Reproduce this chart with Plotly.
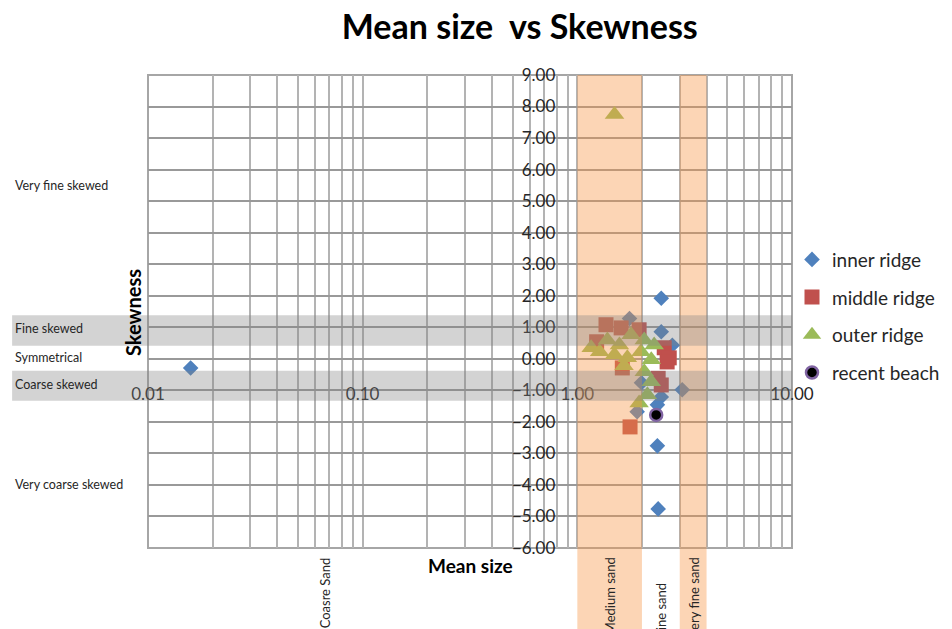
import math
import plotly.graph_objects as go

# ---- data: mean size (x) and skewness (y) per ridge ----
inner_x = [0.0158, 2.46, 1.75, 2.46, 2.77, 3.08, 2.46, 2.36, 1.90, 1.99, 2.36, 2.38]
inner_y = [-0.29, 1.92, 1.28, 0.86, 0.43, -0.98, -1.21, -1.46, -1.68, -0.76, -2.76, -4.76]

middle_x = [1.36, 1.60, 1.23, 1.94, 2.54, 2.68, 1.62, 2.62, 2.46, 2.38, 1.76]
middle_y = [1.08, 0.98, 0.54, 0.92, 0.35, 0.03, -0.29, -0.10, -0.83, -0.62, -2.16]

outer_x = [1.49, 1.16, 1.38, 1.57, 1.78, 2.05, 2.28, 1.27, 1.49, 1.71, 1.98, 2.21,
           1.65, 2.05, 2.21, 2.12, 1.94]
outer_y = [7.75, 0.35, 0.60, 0.44, 0.76, 0.60, 0.44, 0.22, 0.13, 0.03, 0.22, -0.03,
           -0.22, -0.41, -0.73, -1.14, -1.40]

beach_x = [2.33]
beach_y = [-1.78]

# axis extents and ticks
x_range = [0.01, 10]
y_range = [-6, 9]
x_decades = [0.01, 0.1, 1, 10]
x_grid = [m * d for d in [0.01, 0.1, 1] for m in range(1, 10)] + [10]
x_ticktext = ["%.2f" % v if v in x_decades else "" for v in x_grid]

# grain-size classes (phi) drawn as vertical bands
sand_classes = ["Coasre Sand", "Medium sand", "Fine sand", "Very fine sand"]
sand_label_x = [0.0666, 1.414, 2.449, 3.464]
shaded_bands = [(1, 2), (3, 4)]

# skewness classes drawn as horizontal bands
skew_classes = ["Very fine skewed", "Fine skewed", "Symmetrical", "Coarse skewed", "Very coarse skewed"]
skew_label_y = [5.5, 0.95, 0.03, -0.83, -4.0]
skew_bands = [(0.41, 1.38), (-1.33, -0.38)]

FONT = "Lato"
TXT = "#262626"

fig = go.Figure()
fig.add_trace(go.Scatter(x=inner_x, y=inner_y, mode="markers", name="inner ridge",
                         legendgroup="a",
                         marker=dict(symbol="diamond", size=12, color="#4F81BD")))
fig.add_trace(go.Scatter(x=middle_x, y=middle_y, mode="markers", name="middle ridge",
                         legendgroup="b",
                         marker=dict(symbol="square", size=15, color="#C0504D")))
fig.add_trace(go.Scatter(x=outer_x, y=outer_y, mode="markers", name="outer ridge",
                         legendgroup="c",
                         marker=dict(symbol="triangle-up", size=17, color="#9BBB59")))
fig.add_trace(go.Scatter(x=beach_x, y=beach_y, mode="markers", name="recent beach",
                         legendgroup="d",
                         marker=dict(symbol="circle", size=12, color="black",
                                     line=dict(color="#8064A2", width=2.5))))

lx0, lx1 = math.log10(x_range[0]), math.log10(x_range[1])
y_axis_pos = (0 - lx0) / (lx1 - lx0)          # vertical axis crosses at x = 1
x_axis_pos = (-1 - y_range[0]) / (y_range[1] - y_range[0])  # horizontal axis at y = -1

shapes = []
for a, b in shaded_bands:
    shapes.append(dict(type="rect", xref="x", yref="paper",
                       x0=a, x1=b, y0=-0.3, y1=1,
                       fillcolor="#F79646", opacity=0.4, line_width=0, layer="above"))
for a, b in skew_bands:
    shapes.append(dict(type="rect", xref="paper", yref="y",
                       x0=-0.211, x1=1, y0=a, y1=b,
                       fillcolor="#808080", opacity=0.35, line_width=0, layer="above"))
shapes.append(dict(type="rect", xref="paper", yref="paper", x0=0, x1=1, y0=0, y1=1,
                   line=dict(color="#A6A6A6", width=2), layer="below"))

annotations = []
for txt, yv in zip(skew_classes, skew_label_y):
    annotations.append(dict(text=txt, xref="paper", yref="y", x=-0.21, y=yv,
                            xanchor="left", yanchor="middle", showarrow=False,
                            font=dict(family=FONT, size=12.5, color=TXT)))
for txt, xv in zip(sand_classes, sand_label_x):
    annotations.append(dict(text=txt, xref="x", yref="paper", x=math.log10(xv),
                            y=-0.015 if txt != "Fine sand" else -0.068,
                            xanchor="center", yanchor="top", textangle=-90,
                            showarrow=False,
                            font=dict(family=FONT, size=13, color=TXT)))
annotations.append(dict(text="<b>Skewness</b>", xref="paper", yref="paper",
                        x=-0.023, y=0.497, textangle=-90, showarrow=False,
                        xanchor="center", yanchor="middle",
                        font=dict(family=FONT, size=20, color="black")))
annotations.append(dict(text="<b>Mean size</b>", xref="paper", yref="paper",
                        x=0.5, y=-0.038, showarrow=False,
                        xanchor="center", yanchor="middle",
                        font=dict(family=FONT, size=19, color="black")))

fig.update_layout(
    width=952, height=629,
    margin=dict(l=148, r=160, t=75, b=81, autoexpand=False),
    paper_bgcolor="white", plot_bgcolor="white",
    title=dict(text="<b>Mean size\u00a0 vs Skewness</b>", x=0.546, y=0.957,
               xref="container", yref="container", xanchor="center", yanchor="middle",
               font=dict(family=FONT, size=34, color="black")),
    xaxis=dict(type="log", range=[lx0, lx1], tickvals=x_grid, ticktext=x_ticktext,
               showgrid=True, gridcolor="#B3B3B3", gridwidth=2, zeroline=False,
               showline=False, ticks="", anchor="free", position=x_axis_pos,
               ticklabelstandoff=-8,
               tickfont=dict(family=FONT, size=17, color=TXT)),
    yaxis=dict(range=y_range, dtick=1, tickformat=".2f",
               showgrid=True, gridcolor="#999999", gridwidth=2, zeroline=False,
               showline=False, ticks="", anchor="free", position=y_axis_pos,
               ticklabelstandoff=22,
               tickfont=dict(family=FONT, size=17, color=TXT)),
    legend=dict(x=1.0, y=0.65, xanchor="left", yanchor="top",
                tracegroupgap=10, font=dict(family=FONT, size=19, color=TXT),
                bgcolor="rgba(0,0,0,0)"),
    shapes=shapes, annotations=annotations,
)

fig.write_html("out.html")
